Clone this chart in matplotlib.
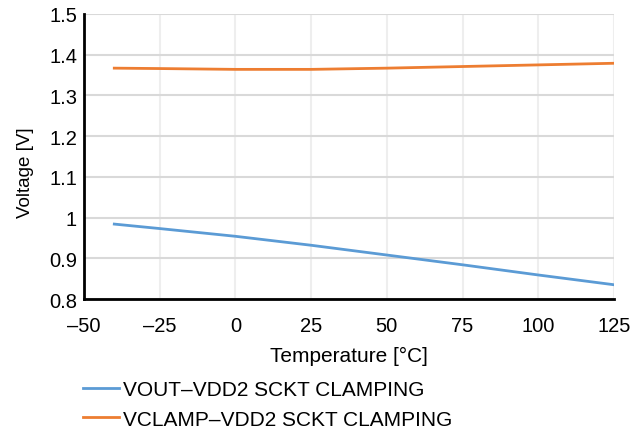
import matplotlib
matplotlib.use('Agg')
import matplotlib.pyplot as plt
from matplotlib.ticker import FuncFormatter

# Data
temperature = [-40, -25, 0, 25, 50, 75, 100, 125]
vout_vdd2 = [0.984, 0.973, 0.954, 0.932, 0.908, 0.884, 0.859, 0.835]
vclamp_vdd2 = [1.367, 1.366, 1.364, 1.364, 1.367, 1.371, 1.375, 1.379]

x_ticks = [-50, -25, 0, 25, 50, 75, 100, 125]
y_ticks = [0.8, 0.9, 1.0, 1.1, 1.2, 1.3, 1.4, 1.5]

plt.rcParams['font.family'] = ['Liberation Sans', 'DejaVu Sans']

fig = plt.figure(figsize=(6.39, 4.31), dpi=100)
ax = fig.add_axes([84 / 639, 1 - 300 / 431, 530 / 639, 285 / 431])

ax.plot(temperature, vout_vdd2, color='#5b9bd5', linewidth=2, label='VOUT\u2013VDD2 SCKT CLAMPING')
ax.plot(temperature, vclamp_vdd2, color='#ed7d31', linewidth=2, label='VCLAMP\u2013VDD2 SCKT CLAMPING')

ax.set_xlim(-50, 125)
ax.set_ylim(0.8, 1.5)
ax.set_xticks(x_ticks)
ax.set_yticks(y_ticks)
ax.yaxis.set_major_formatter(FuncFormatter(lambda v, p: '%g' % round(v, 2)))
ax.xaxis.set_major_formatter(FuncFormatter(lambda v, p: ('%g' % v).replace('-', '\u2013')))

ax.grid(axis='y', color='#d9d9d9', linewidth=1.5)
ax.grid(axis='x', color='#eeeeee', linewidth=1.5)
ax.set_axisbelow(True)

for side in ['top', 'right']:
    ax.spines[side].set_visible(False)
for side in ['left', 'bottom']:
    ax.spines[side].set_linewidth(2)
    ax.spines[side].set_color('black')

ax.tick_params(length=0, labelsize=14.5)
ax.tick_params(axis='y', pad=5)
ax.tick_params(axis='x', pad=12)

ax.set_xlabel('Temperature [\u00b0C]', fontsize=15, labelpad=8)
ax.set_ylabel('Voltage [V]', fontsize=13.5)
ax.yaxis.set_label_coords(-0.095, 0.447)

ax.legend(loc='upper left', bbox_to_anchor=(-0.002, -0.285), frameon=False,
          fontsize=15, handlelength=1.75, handletextpad=0.15, labelspacing=0.5,
          borderaxespad=0, borderpad=0)

plt.savefig('out.png', dpi=100)
plt.close()
